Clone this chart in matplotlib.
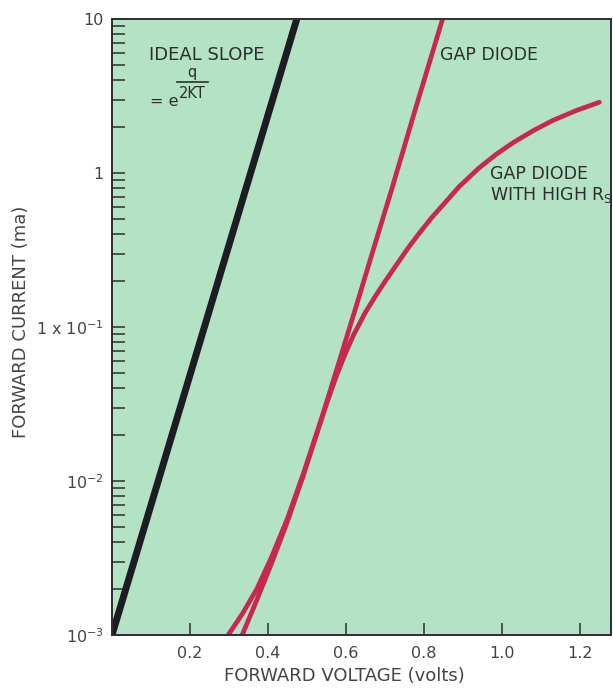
import matplotlib
matplotlib.use("Agg")
import matplotlib.pyplot as plt
import matplotlib.ticker as mticker

# forward voltage (V) vs forward current (ma)
ideal_v = [0.0, 0.474]
ideal_i = [1e-3, 10.0]

gap_v = [0.334, 0.372, 0.410, 0.449, 0.490, 0.533, 0.576, 0.627, 0.670, 0.717,
         0.780, 0.848]
gap_i = [1.0e-3, 1.70e-3, 2.95e-3, 5.37e-3, 1.07e-2, 2.34e-2, 5.25e-2, 1.38e-1,
         3.16e-1, 7.76e-1, 2.69, 10.0]

rs_v = [0.298, 0.335, 0.372, 0.410, 0.449, 0.490, 0.533, 0.555, 0.576, 0.598,
        0.619, 0.650, 0.678, 0.700, 0.730, 0.760, 0.790, 0.820, 0.850, 0.890,
        0.940, 0.985, 1.030, 1.080, 1.130, 1.190, 1.250]
rs_i = [1.0e-3, 1.38e-3, 2.0e-3, 3.24e-3, 5.62e-3, 1.10e-2, 2.34e-2, 3.43e-2,
        4.84e-2, 6.68e-2, 8.81e-2, 1.245e-1, 1.62e-1, 1.97e-1, 2.54e-1, 3.27e-1,
        4.12e-1, 5.13e-1, 6.24e-1, 8.13e-1, 1.07, 1.32, 1.58, 1.88, 2.19, 2.54, 2.88]

y_ticks = [1e-3, 1e-2, 1e-1, 1, 10]
y_labels = ["10$^{-3}$", "10$^{-2}$", "1 x 10$^{-1}$", "1", "10"]
x_ticks = [0.2, 0.4, 0.6, 0.8, 1.0, 1.2]
x_labels = ["0.2", "0.4", "0.6", "0.8", "1.0", "1.2"]

W, H = 613, 688
PAPER = "#b4e2c5"
INK = "#2e2e2e"
LABEL = "#444444"
RED = "#c8284f"
BLACK = "#1c1c22"

plt.rcParams.update({"font.family": "DejaVu Sans", "mathtext.fontset": "dejavusans"})


def fpx(x, y):
    return x / W, 1 - y / H


fig = plt.figure(figsize=(W / 100, H / 100), dpi=100, facecolor="white")
ax = fig.add_axes([112 / W, 53 / H, 499 / W, 616 / H], facecolor=PAPER)

ax.plot(ideal_v, ideal_i, color=BLACK, lw=5.0, solid_capstyle="butt")
ax.plot(rs_v, rs_i, color=RED, lw=3.4, solid_capstyle="round", solid_joinstyle="round")
ax.plot(gap_v, gap_i, color=RED, lw=3.4, solid_capstyle="butt", solid_joinstyle="round")

ax.set_yscale("log")
ax.set_xlim(0, 1.28)
ax.set_ylim(1e-3, 10)

ax.yaxis.set_major_locator(mticker.FixedLocator(y_ticks))
ax.yaxis.set_major_formatter(mticker.FixedFormatter(y_labels))
ax.yaxis.set_minor_locator(mticker.LogLocator(base=10, subs=range(2, 10)))
ax.yaxis.set_minor_formatter(mticker.NullFormatter())
ax.set_xticks(x_ticks)
ax.set_xticklabels(x_labels)

ax.tick_params(axis="y", which="both", direction="in", length=9, width=1.1,
               color=INK, labelsize=11.5, labelcolor=LABEL, pad=6)
ax.tick_params(axis="x", which="both", direction="in", length=9, width=1.1,
               color=INK, labelsize=11.5, labelcolor=LABEL, pad=8)
for s in ax.spines.values():
    s.set_color(INK)
    s.set_linewidth(1.4)

fig.text(*fpx(344, 676), "FORWARD VOLTAGE (volts)", ha="center", va="center",
         fontsize=13, color=LABEL)
fig.text(*fpx(21, 322), "FORWARD CURRENT (ma)", ha="center", va="center",
         rotation=90, fontsize=13, color=LABEL)

fig.text(*fpx(149, 55), "IDEAL SLOPE", ha="left", va="center", fontsize=13, color=INK)
fig.text(*fpx(150, 101), "= e", ha="left", va="center", fontsize=11.5, color=INK)
fig.text(*fpx(192, 72), "q", ha="center", va="center", fontsize=10.5, color=INK)
fig.add_artist(plt.Line2D([177 / W, 208 / W], [1 - 82 / H, 1 - 82 / H],
                          color=INK, lw=1.2))
fig.text(*fpx(192, 93), "2KT", ha="center", va="center", fontsize=10.5, color=INK)

fig.text(*fpx(440, 55), "GAP DIODE", ha="left", va="center", fontsize=12.5, color=INK)
fig.text(*fpx(490, 174), "GAP DIODE", ha="left", va="center", fontsize=12.5, color=INK)
fig.text(*fpx(490, 195), r"WITH HIGH R$_\mathrm{S}$", ha="left", va="center",
         fontsize=12.5, color=INK)

fig.savefig("out.png", dpi=100, facecolor="white")
